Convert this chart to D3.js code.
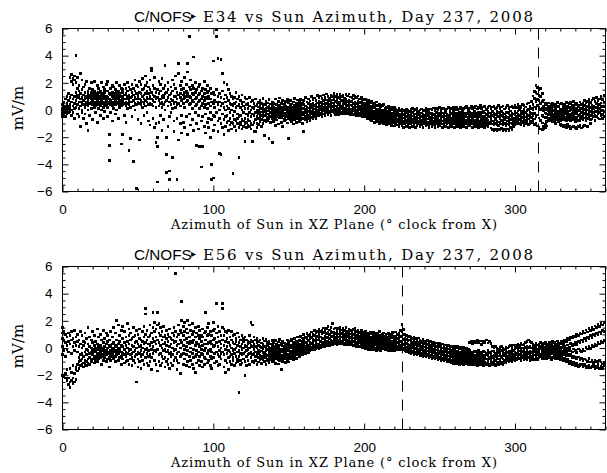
<!DOCTYPE html>
<html><head><meta charset="utf-8">
<script src="https://cdn.jsdelivr.net/npm/d3@7"></script>
<style>body{margin:0;background:#fff}svg{display:block}</style>
</head><body>
<script>
// ---------- data ----------
const xTicks = [0, 100, 200, 300];
const yTicks = [-6, -4, -2, 0, 2, 4, 6];
const titles = ["E34", "E56"];
const markerAz = [315, 225];   // dashed vertical markers (deg)
// rows: [azimuth(deg), value(mV/m), value, ...]
const e34Rows = [
[0,-.3,.1,.4,-.1,-.5],[1,.2,-.4,.6,0,.3],[2,-.2,.3,.8,-.5,.1],[3,.5,0,-.3,1,.2],[4,.1,.7,-.2,.3,1.2],
[5,2.4,.4,-.1,.9,.2],[6,2.1,2.6,.6,0,-.4,1.1],[7,2.3,1.9,.8,.3,-.2],[8,2.2,2.5,1,.5,.1,-.6],[9,4,2,1.3,.7,.2],
[10,2.4,1.6,.9,.4,-.3,1.1],[11,1.8,1,.6,.1,-.5,1.4],[12,2.7,1.2,.8,.3,-1.2,.6],[13,2.2,1.5,.9,.5,-.2,0],[14,1.7,1.1,.7,.4,-.6],
[15,1.9,1.3,.8,.2,-.3,1],[16,2.1,1,.6,.9,-1,.4],[17,1.4,1.2,.7,.3,-1.5,0],[18,1.6,.9,.5,1.1,-.4],[19,2,1.3,.8,.6,.1],
[20,1.5,1,.7,.4,-.7,1.2],[21,2.1,1.4,.9,.5,.2],[22,1.2,.8,.6,.3,-.2,1],[23,1.8,1.1,.7,.5,-.9],[24,1.6,1.3,.9,.4,.1],
[25,1.4,1,.8,.6,-.4,.3],[26,2,1.2,.7,.5,0],[27,1.7,1.1,.9,.6,.2,-.6],[28,1.5,1.3,.8,.4,-.1],[29,1.9,1,.7,.5,.3],
[30,2.1,1.4,.9,.6,-.5,.2],[31,-1.8,-2.6,-3.7,1.2,.8,.5],[32,1.6,1.1,.7,.4,-.2],[33,1.3,1,.6,.3,-.8,1.8],[34,1.7,1.2,.8,.5,.1],
[35,1.5,.9,.7,.4,-.3,1.1],[36,2,1.3,.8,.6,0],[37,1.4,1.1,.9,.5,-.6],[38,1.8,1.2,.7,.4,.2],[39,-2.5,1.6,1,.6,.3],
[40,-1.8,1.3,.9,.7,.4,1.5],[41,1.9,1.1,.8,.5,-.4],[42,1.6,1.2,.6,.3,-.9],[43,1.4,1,.8,.5,.1,2],[44,-3,1.7,1.1,.7,.4],
[45,-2.1,1.5,.9,.6,.2],[46,1.9,1.3,1,.6,-.5],[47,-3.8,1.6,1.1,.7,.3],[48,2.2,1.4,.9,.5,0],[49,-5.8,1.8,1.2,.8,.4],
[50,1.7,1.1,.9,.6,-.7],[51,-2.2,2.1,1.3,.8,.5],[52,1.9,1.2,.7,.4,-1],[53,2.3,1.5,1,.6,.2],[54,1.6,1.1,.8,.5,-.4],
[55,2.5,1.8,1.2,.7,.3],[56,2,1.4,.9,.6,-.2],[57,1.7,1.2,.8,.4,-.8],[58,2.2,1.5,1,.5,-1.1],[59,3.1,2.9,1.3,.8,.4],
[60,1.8,1.1,.7,.3,-.6],[61,2.4,1.6,1,.6,-1.3],[62,-2.4,-1,1.3,.8,.2],[63,-5.3,-2.7,-2,1.5,.9],[64,2.1,1.2,.7,.3,-.9],
[65,1.9,1.4,.8,.5,-.4],[66,2.3,1,.6,-1.5,.2],[67,1.6,1.1,.9,.4,-.7],[68,3.3,1.8,1.2,.6,0],[69,-3.3,-4.6,-2,1.3,.7],
[70,2,1.5,.9,.3,-1.2],[71,-4.5,-5.1,1.1,.6,-.5],[72,1.7,1.2,.8,.4,-.2],[73,-3.5,2.2,1.4,.7,.1],[74,1.9,1,.5,-.8,-1.6],
[75,2.5,1.6,1,.6,.2],[76,-5.1,1.3,.8,.4,-.6],[77,3.4,2.7,-2.2,1.1,.5],[78,1.8,1.2,.9,.3,-1],[79,2.1,1.5,.7,-.4,-1.7],
[80,1.6,1.1,.8,.5,-.9],[81,2.4,1.3,.9,.2,-1.3],[82,1.9,1.4,1,.6,-.5],[83,3.4,2.8,1.2,.7,-1.8],[84,5.4,1.7,1,.4,-.3],
[85,2.2,1.5,.9,.5,-1.1],[86,1.8,1.2,.7,.1,-.7],[87,3.9,1.6,1.1,.6,-1.5],[88,2,1.3,.8,.3,-.2],[89,-2.6,1.5,.9,.4,-1],
[90,1.7,1.1,.6,-.4,-1.4],[91,-2.7,1.9,1.2,.7,.1],[92,-4.2,1.4,.8,.3,-.8],[93,-2.7,1.6,1,.5,-.5],[94,2.1,1.2,.7,.2,-1.2],
[95,1.5,.9,.4,-.3,-1.7],[96,1.8,1.3,.8,.1,-.9],[97,1.4,1,.5,-.6,-1.3],[98,1.6,.8,.3,-.2,-2],[99,-4,-5.1,1.2,.6,-.7],
[100,3.6,-5,1.3,.5,-.4,-1.5],[101,1.1,.7,.2,-.5,-1.1],[102,5.9,5.4,1.5,.6,-.2],[103,3.8,1,.4,-.8,-1.6],[104,-3.2,1.2,.6,0,-.6],
[105,-3.3,3.7,.9,.3,-1],[106,2.7,1.4,.5,-.3,-1.3],[107,2,.8,.2,-.7,-1.8],[108,1.1,.6,0,-.5,-1.2],[109,1.9,.9,.3,-.4,-.9],
[110,1.5,.7,.1,-.8,-1.5],[111,1.2,.5,-.2,-.6,-1.1],[112,1,.4,0,-.9,-1.4],[113,-4.7,.8,.3,-.4,-1],[114,.9,.5,-.1,-.7,-1.2],
[115,1.3,.6,.2,-.8,-1.5],[116,.8,.3,-.3,-1,-.6],[117,-3.5,1,.4,-.5,-1.3],[118,.7,.2,-.4,-.9,-1.1],[119,1.1,.5,0,-.7,-1.4],
[120,.6,.3,-.2,-.8,-1.2],[121,-2.3,.9,.1,-.6,-1],[122,.8,.4,-.3,-.9,-1.3],[123,.5,.1,-.4,-1.1,-.7],[124,.9,.3,-.2,-.8,-1.2],
[125,.6,0,-.5,-1,-1.4],[126,-2.3,-2.3,.7,.2,-.3,-1.1],[127,.5,.1,-.4,-.9,-1.6],[128,.8,.3,-.2,-.7,-1.6],[129,.4,0,-.5,-1,-1.3],
[130,.55,.21,-.04,-.27,-.61,-1.08],[131,.71,.33,.09,-.18,-.46,-.83],[132,.47,.12,-.15,-.38,-.7,-1.19],[133,.83,.28,.02,-.22,-.52,-.97],[134,.39,.06,-.11,-.43,-.76,-1.9],
[135,.64,.36,.13,-.09,-.35,-.88],[136,.52,.17,-.08,-.29,-.57,-.79],[137,.75,.24,-.02,-.31,-.64,-2.1],[138,.44,.09,-.19,-.47,-.92],[139,.58,.31,.05,-.14,-.39,-.66,-2.4],
[140,.49,.22,-.06,-.25,-.53,-.84],[141,.8,.14,-.12,-.36,-.62,-1.12],[142,.41,.03,-.17,-.41,-.73],[143,.63,.26,.01,-.2,-.48,-1.02],[144,.88,.34,.07,-.26,-.58],
[145,.5,.15,-.1,-.33,-.55,-.93],[146,.69,.23,-.05,-.37,-1.21],[147,.42,.11,-.21,-.44,-.68,-.81],[148,.61,.29,.04,-.24,-.49,-.74],[149,.77,.19,-.08,-.3,-.51,-.95],
[150,.53,.13,-.16,-.39,-.62,-2.1],[151,.68,.32,.06,-.18,-.45,-.7],[152,.45,.21,-.03,-.28,-.56,-.86],[153,.6,.1,-.13,-.42,-.67,-1.04],[154,.86,.35,.08,-.21,-.47,-.72],
[155,.51,.18,-.07,-.34,-.6,-.92],[156,.73,.39,.12,-.15,-.4,-.63],[157,.57,.24,-.04,-.27,-.52,-.83],[158,.79,.31,.03,-.23,-.44,-.71],[159,.48,.14,-.14,-.37,-.58,-1.01],
[160,.72,.41,.1,-.16,-.35,-.61,-1.6],[161,.92,.3,.05,-.19,-.46,-.69],[162,.6,.22,-.02,-.29,-.54,-.84],[163,.81,.47,.15,-.12,-.38,-.62],[164,.66,.27,.01,-.2,-.43,-.75],
[165,.98,.42,.16,-.09,-.3,-.55],[166,.77,.5,.19,-.06,-.33,-.6],[167,.89,.34,.07,-.17,-.41,-.52],[168,.7,.43,.13,-.11,-.27,-.64],[169,1.06,.52,.22,-.04,-.24,-.45],
[170,.91,.63,.35,.08,-.14,-.38],[171,1.02,.55,.27,.03,-.21,-.33],[172,.84,.6,.37,.12,-.09,-.47],[173,1.11,.71,.44,.16,-.05,-.29],[174,.93,.52,.26,.02,-.17,-.41],
[175,1.18,.74,.46,.19,-.02,-.23],[176,.99,.64,.33,.07,-.12,-.31],[177,.88,.69,.41,.22,-.07,-.2],[178,1.08,.58,.31,.1,-.15,-.39],[179,.97,.73,.52,.24,-.03,-.13],
[180,1.2,.81,.45,.14,-.08,-.22],[181,1.01,.62,.3,.04,-.19,-.34],[182,1.12,.76,.53,.21,-.06,-.14],[183,.9,.57,.38,.09,-.11,-.32],[184,1.16,.83,.49,.23,.01,-.18],
[185,.98,.68,.29,.11,-.16,-.25],[186,1.09,.59,.42,.18,-.04,-.12],[187,.87,.72,.5,.13,-.09,-.3],[188,1.14,.79,.4,.2,-.02,-.21],[189,1.03,.61,.32,.05,-.14,-.24],
[190,1.17,.7,.48,.17,-.07,-.15],[191,.96,.63,.36,.08,-.13,-.33],[192,.89,.67,.34,.03,-.18,-.26],[193,1.07,.8,.47,.19,-.05,-.31],[194,.99,.56,.28,.06,-.2,-.22],
[195,.9,.49,.23,.01,-.17,-.42],[196,1.02,.61,.38,.09,-.11,-.29],[197,.81,.53,.27,.02,-.23,-.4],[198,.92,.58,.21,-.06,-.19,-.35],[199,.78,.42,.12,-.15,-.32,-.51],
[200,.74,.48,.26,0,-.21,-.43],[201,.82,.39,.13,-.16,-.34,-.52],[202,.63,.31,.04,-.24,-.41,-.63],[203,.7,.43,.17,-.07,-.3,-.46],[204,.52,.24,.02,-.27,-.49,-.71],
[205,.61,.28,-.06,-.36,-.55,-.82],[206,.48,.14,-.15,-.31,-.47,-.64],[207,.4,.19,-.09,-.38,-.61,-.9],[208,.58,.05,-.18,-.45,-.67,-.77],[209,.33,.08,-.26,-.48,-.69,-.84],
[210,.42,.02,-.2,-.53,-.74,-1.01],[211,.24,-.07,-.35,-.57,-.72,-.91],[212,.31,-.02,-.28,-.46,-.66,-.83],[213,.38,-.11,-.3,-.62,-.8,-1.03],[214,.12,-.17,-.39,-.58,-.76,-.93],
[215,.2,-.08,-.37,-.64,-.85,-1.09],[216,.29,-.19,-.44,-.6,-.73,-.9],[217,.1,-.12,-.33,-.66,-.82,-1.02],[218,.18,-.21,-.47,-.71,-.88,-1.12],[219,.03,-.26,-.41,-.59,-.78,-.94],
[220,.16,-.1,-.38,-.65,-.86,-1.18],[221,.08,-.27,-.5,-.74,-.92,-1.03],[222,.01,-.2,-.42,-.68,-.83,-1.1],[223,.11,-.29,-.56,-.77,-.95,-1.2],[224,-.06,-.31,-.48,-.63,-.81,-1.01],
[225,.08,-.22,-.49,-.72,-.9,-1.14],[226,-.02,-.33,-.58,-.81,-.97,-1.27],[227,-.09,-.37,-.51,-.66,-.88,-1.03],[228,.06,-.18,-.46,-.75,-.93,-1.21],[229,-.01,-.29,-.6,-.84,-1.06],
[230,-.12,-.41,-.57,-.79,-.99,-1.3],[231,.02,-.26,-.5,-.68,-.85,-1.01],[232,.09,-.19,-.44,-.7,-.91,-1.19],[233,-.07,-.38,-.61,-.83,-1.08],[234,.03,-.3,-.53,-.73,-.94,-1.28],
[235,.11,-.2,-.42,-.64,-.82,-1.12],[236,-.1,-.34,-.59,-.87,-1.02],[237,0,-.39,-.52,-.71,-.89,-1.2],[238,.07,-.23,-.47,-.76,-.96,-1.1],[239,-.05,-.31,-.62,-.86,-1.04,-1.31],
[240,-.02,-.4,-.56,-.69,-.83,-1.01],[241,.1,-.27,-.49,-.78,-.97,-1.17],[242,.04,-.17,-.43,-.67,-.92,-1.09],[243,-.08,-.36,-.6,-.88,-1.05,-1.29],[244,.08,-.28,-.54,-.74,-.84,-1.02],
[245,-.01,-.21,-.45,-.7,-.95,-1.22],[246,.15,-.32,-.58,-.8,-.99,-1.11],[247,-.03,-.4,-.51,-.77,-1.07,-1.27],[248,.12,-.19,-.48,-.66,-.87,-1.03],[249,.01,-.3,-.63,-.85,-1.01,-1.2],
[250,.17,-.25,-.41,-.73,-.93,-1.13],[251,-.04,-.37,-.57,-.72,-.86,-1.02],[252,.09,-.22,-.5,-.82,-1.04,-1.28],[253,.14,-.29,-.61,-.79,-.97,-1.12],[254,.02,-.18,-.44,-.68,-.9,-1.21],
[255,.07,-.33,-.52,-.84,-1],[256,.18,-.38,-.59,-.78,-.95,-1.3],[257,-.02,-.2,-.47,-.69,-.88,-1.1],[258,.1,-.27,-.6,-.83,-1.06,-1.19],[259,.16,-.13,-.42,-.75,-.92,-1.01],
[260,.05,-.31,-.53,-.71,-.98,-1.29],[261,.19,-.24,-.58,-.86,-1.03,-1.12],[262,0,-.29,-.49,-.77,-.94,-1.23],[263,.08,-.16,-.39,-.67,-.89,-1.02],[264,.17,-.34,-.62,-.81,-1.07,-1.31],
[265,-.03,-.09,-.46,-.74,-.96,-1.1],[266,.11,-.28,-.57,-.7,-.91,-1.2],[267,.2,-.21,-.41,-.85,-1],[268,.26,-.3,-.51,-.79,-.97,-1.28],[269,.06,-.12,-.56,-.68,-.87,-1.08],
[270,.15,-.19,-.43,-.83,-1.05,-1.18],[271,.27,-.33,-.52,-.76,-.93,-1.01],[272,.09,-.24,-.59,-.72,-.99,-1.3],[273,.18,-.1,-.4,-.84,-1.04,-1.11],[274,.29,-.28,-.5,-.78,-.95,-1.22],
[275,.07,-.22,-.61,-.69,-.88,-1.02],[276,.2,-.14,-.38,-.8,-1.06,-1.27],[277,.31,-.27,-.48,-.87,-1.09],[278,.1,-.2,-.57,-.71,-.9,-1.19],[279,.22,-.11,-.44,-.77,-.98,-1.03],
[280,.28,-.23,-.53,-.86,-1.08,-1.29],[281,.05,-.32,-.6,-.73,-.92,-1.12],[282,.19,-.09,-.42,-.79,-1.01,-1.21],[283,.3,-.21,-.49,-.88,-.97],[284,.12,-.29,-.58,-.7,-.94,-1.32],
[285,.21,-.13,-.41,-.8,-1.04,-1.42],[286,.27,-.24,-.52,-.87,-1.1,-1.51],[287,.09,-.31,-.59,-.74,-.99,-1.44],[288,.18,-.1,-.43,-.82,-1.06,-1.53],[289,.32,-.2,-.47,-.89,-1.13,-1.41],
[290,.1,-.28,-.61,-.96,-1.48],[291,.23,-.12,-.39,-.78,-1.02,-1.38],[292,.29,-.22,-.5,-.91,-1.09,-1.52],[293,.07,-.3,-.57,-.72,-.97,-1.43],[294,.2,-.15,-.44,-.98,-1.17,-1.5],
[295,.33,-.18,-.53,-.81,-1.03,-1.39],[296,.12,-.27,-.62,-.88,-1.11,-1.49],[297,.22,-.08,-.42,-.69,-.96,-1.3],[298,.3,-.21,-.48,-.99,-1.41],[299,.17,-.29,-.58,-.79,-1,-1.22],
[300,.34,-.12,-.37,-.86,-1.08],[301,.19,-.23,-.5,-.71,-.93,-1.01],[302,.38,-.07,-.31,-.62,-.88],[303,.27,.02,-.41,-.68,-.97,-1.04],[304,.16,-.19,-.47,-.77,-1.09],
[305,.42,-.09,-.29,-.57,-.86,-.95],[306,.31,.04,-.39,-.72,-1.16],[307,.21,-.16,-.52,-.79,-.99],[308,.44,-.06,-.33,-.61,-.84,-.92],[309,.51,.03,-.42,-.66,-1.07],
[310,.28,-.18,-.49,-.81,-.98],[311,.62,.12,-.27,-.57,-.87,-.94],[312,1.03,.41,.04,-.38,-.77,-.85],[313,1.38,.86,.23,-.27,-.66,-1.08],[314,1.82,1.27,.63,.12,-.47,-.97],
[315,1.66,1.18,.79,.31,-.36,-1.17],[316,1.52,1.09,.68,.17,-.58,-1.28],[317,1.58,.97,.49,.03,-.76,-1.39],[318,1.19,.63,.12,-.42,-.96,-1.47],[319,.73,.26,-.08,-.51,-1.17,-1.36],
[320,.48,.12,-.23,-.58,-1.07,-1.31],[321,.41,.03,-.29,-.52,-.83,-1.18],[322,.52,.17,-.08,-.37,-.68,-.74],[323,.28,.04,-.27,-.58,-.81],[324,.43,.09,-.18,-.46,-.66,-.77],
[325,.49,.21,-.06,-.39,-.63,-.88],[326,.31,-.02,-.33,-.51,-.76],[327,.38,.13,-.17,-.57,-.71,-.98],[328,.54,.22,-.1,-.42,-.64],[329,.26,-.07,-.31,-.48,-.69,-.87],
[330,.44,.08,-.21,-.56,-.79,-1.08],[331,.51,-.03,-.28,-.47,-.72,-1.13],[332,.33,.12,-.13,-.38,-.62,-1.22],[333,.41,.19,-.19,-.53,-.74,-1.16],[334,.56,.01,-.29,-.59,-.82,-1.27],
[335,.29,.14,-.16,-.49,-.67,-1.09],[336,.47,.23,-.08,-.37,-.71,-1.21],[337,.53,.03,-.32,-.57,-.78,-1.34],[338,.34,.11,-.22,-.46,-.66,-1.26],[339,.62,.18,-.11,-.41,-.73,-1.19],
[340,.39,-.01,-.27,-.61,-.83,-1.31],[341,.48,.13,-.2,-.52,-.69,-1.38],[342,.32,.21,-.06,-.43,-.76,-1.24],[343,.6,.04,-.31,-.58,-.8,-1.15],[344,.42,.09,-.17,-.47,-.65,-1.33],
[345,.51,.24,-.09,-.39,-.7,-1.22],[346,.68,.31,.02,-.28,-.59,-1.12],[347,.53,.12,-.19,-.48,-.77],[348,.62,.28,.01,-.33,-.64,-1.19],[349,.79,.43,.08,-.2,-.57],
[350,.57,.19,-.12,-.41,-.69,-.98],[351,.73,.37,.03,-.27,-.66],[352,.84,.29,.11,-.18,-.49],[353,.61,.22,-.07,-.38,-.78],[354,.92,.48,.17,-.09,-.46],
[355,.69,.33,.04,-.29,-.58],[356,.81,.41,.13,-.16,-.67],[357,.99,.52,.21,-.06,-.39],[358,.77,.27,-.02,-.32,-.61],[359,1.08,.58,.24,-.11,-.47]
];
const e56Rows = [
[0,1.5,1.1,.7,.1,-.5,-2],[1,1.2,.6,-.2,-2.1,-2],[2,1,.4,-.6,-2.2,-1.9],[3,.8,.2,-.1,-2.4,-1.6],[4,1.1,.5,-.3,-2.7,-2.2],
[5,.9,.3,-1.5,-2.9,-2.5],[6,1.2,.6,-.4,-2.4,-1.8],[7,.7,.1,-1.3,-2.2,-2.6],[8,1.3,.4,-.2,-1.9,-2.5],[9,.8,.2,-1.6,-2.3,-1.4],
[10,1,.5,-.3,-1.7,-1.2],[11,.6,.1,-.7,-1.5,-1],[12,1.2,.3,-.5,-1.3,-.9],[13,.9,0,-.4,-1.2,-.8],[14,.5,.2,-.6,-1.1,-1.4],
[15,1.1,.4,-.3,-.9,-1.2],[16,.7,-.1,-.5,-1,-1.3],[17,1.5,.3,-.2,-.8,-1.1],[18,.8,.1,-.4,-.7,-1.2],[19,.6,0,-.3,-.9,-1],
[20,1.2,.4,-.1,-.5,-.8],[21,.9,.2,-.3,-.6,-1.1],[22,.5,0,-.2,-.7,-.9],[23,1.4,.3,-.4,-.5,-1],[24,.8,.1,-.1,-.6,-.8],
[25,1,.2,-.3,-.4,-.7],[26,.6,0,-.2,-.6,-1.2],[27,1.3,.4,-.1,-.5,-.9],[28,.7,.1,-.3,-.7,-.4],[29,1.1,.3,-.2,-.5,-1],
[30,.9,.5,0,-.4,-.8],[31,-1.4,.6,.2,-.3,-.7],[32,1.2,.1,-.2,-.5,-.9],[33,.8,.3,-.1,-.4,-.6],[34,1.5,.4,0,-.3,-.8],
[35,1.1,.2,-.2,-.6,-1],[36,2,.6,.1,-.3,-.5],[37,1.7,.3,-.1,-.4,-.9],[38,.9,.5,0,-.2,-.7],[39,-1.2,1.3,.2,-.3,-.6],
[40,1.6,.7,.1,-.4,-.8],[41,1.2,.4,-.1,-.5,-1.1],[42,.8,.2,-.3,-.6,-1],[43,1.8,.5,0,-.4,-.9],[44,1.4,.9,.3,-.2,-1.2],
[45,1.1,.6,-.1,-.5,-.8],[46,.7,.2,-.4,-.7,-1.3],[47,1.5,.8,.1,-.3,-.9],[48,.9,.4,-.2,-.6,-1.1],[49,-2.5,1.3,.5,0,-.5],
[50,1,.3,-.3,-.8,-1.4],[51,1.4,.7,.1,-.4,-1],[52,.6,.2,-.2,-.6,-1.5],[53,1.2,.5,0,-.5,-.9],[54,1.6,.8,.3,-.3,-1.2],
[55,2.9,2.5,1,.4,-.1,-.7],[56,1.3,.6,0,-.4,-1.1],[57,.8,.3,-.2,-.6,-1.3],[58,1.7,.9,.2,-.5,-1],[59,1.1,.4,-.1,-.7,-1.6],
[60,2.6,1.5,.7,.1,-.4],[61,1.9,1.2,.5,-.2,-.9],[62,1.4,.8,.3,-.3,-1.2],[63,2.6,1.7,.6,-.1,-1.7],[64,1.8,1.1,.4,-.5,-1],
[65,1.5,.9,.2,-.4,-1.3],[66,1.2,.6,0,-.6,-1.1],[67,1.6,.8,.3,-.2,-.8],[68,.9,.4,-.1,-.7,-1.4],[69,1.3,.7,.2,-.3,-1],
[70,1,.5,-.2,-.8,-1.2],[71,1.4,.8,.1,-.4,-1.5],[72,.7,.3,-.3,-.6,-1.1],[73,1.1,.6,0,-.5,-1.3],[74,1.5,.9,.4,-.2,-.9],
[75,5.5,1.2,.5,-.1,-.7],[76,.8,.2,-.4,-.9,-1.6],[77,1.7,1,.3,-.3,-1.1],[78,-1.9,1.3,.6,0,-.6],[79,3.4,2,1.1,.4,-.5],
[80,1.6,.9,.2,-.4,-1.2],[81,1.9,1.2,.6,-.1,-.8],[82,1.4,.7,.1,-.5,-1.3],[83,2,1.1,.4,-.2,-1],[84,1.7,.8,.3,-.6,-1.4],
[85,1.3,.5,0,-.3,-.9],[86,1.8,1,.4,-.4,-1.2],[87,1.2,.6,-.1,-.7,-1.5],[88,-1.8,1.5,.8,.2,-.6],[89,1.1,.4,-.2,-.5,-1.1],
[90,1.6,.9,.3,-.3,-.9],[91,1.3,.7,.1,-.6,-1.3],[92,.9,.5,-.1,-.4,-1],[93,1.4,.8,.2,-.5,-1.4],[94,1.1,.3,-.2,-.7,-1.2],
[95,2.6,1.2,.6,0,-.8],[96,1.5,.9,.3,-.4,-1.1],[97,1.8,1,.4,-.2,-.9],[98,1.2,.5,-.1,-.6,-1.3],[99,.9,.3,-.3,-.8,-1.5],
[100,1.9,1.3,.6,.1,-.7],[101,1.4,.7,.2,-.4,-1.1],[102,3.3,1.1,.4,-.3,-1],[103,1.6,.8,.1,-.5,-1.3],[104,1.2,.5,-.2,-.6,-1.2],
[105,.9,.3,0,-.4,-.8],[106,3.3,2.9,1.5,.6,-.3],[107,1.4,.9,.2,-.5,-1.4],[108,-1.8,1.2,.5,-.1,-.9],[109,1.1,.7,.1,-.4,-1.1],
[110,-1.6,1.3,.4,-.2,-.7],[111,.8,.2,-.3,-.6,-1],[112,1.2,.6,0,-.5,-1.2],[113,.9,.4,-.2,-.7,-.9],[114,1,.3,-.1,-.4,-1.3],
[115,.7,.5,0,-.6,-1.1],[116,1.1,.2,-.3,-.8,-1],[117,-3.3,.8,.4,-.2,-.6],[118,.6,.1,-.4,-.9,-1.2],[119,.9,.3,-.1,-.5,-1.1],
[120,.7,.5,0,-.4,-.8],[121,-2,.8,.2,-.3,-1],[122,.6,.1,-.2,-.6,-1.3],[123,.5,.3,-.1,-.5,-.9],[124,.9,.4,0,-.4,-1.2],
[125,1.9,.6,.2,-.3,-.7],[126,1.7,.5,.1,-.5,-1],[127,.8,.3,-.1,-.4,-1.1],[128,.6,.1,-.3,-.6,-.9],[129,.7,.4,0,-.5,-1.2],
[130,.47,.16,-.18,-.41,-.68,-1.02],[131,.58,.09,-.27,-.52,-.87],[132,.36,.03,-.21,-.63,-.79,-1.13],[133,.69,.24,-.08,-.37,-.58,-.84],[134,.51,.12,-.29,-.48,-.71,-.98],
[135,.62,.01,-.16,-.44,-.66,-1.19],[136,.41,.19,-.12,-.53,-.81,-.92],[137,.48,.07,-.32,-.57,-.74,-1.08],[138,.29,-.04,-.23,-.39,-.62,-.83],[139,.57,.18,-.09,-.46,-.7,-1.01],
[140,.38,.11,-.26,-.59,-.77,-.9],[141,.53,-.02,-.19,-.43,-.64,-1.12],[142,.27,.08,-.13,-.49,-.72,-.81],[143,.44,.02,-.31,-.56,-.86,-1.18],[144,.61,.21,-.17,-.38,-.63,-.91],
[145,.33,-.08,-.28,-.51,-.79,-1.6],[146,.49,.14,-.22,-.58,-.75,-.99],[147,.37,-.03,-.11,-.42,-.61,-.82],[148,.28,.09,-.3,-.47,-.73,-1.09],[149,.59,.04,-.2,-.66,-.84,-.93],
[150,.42,.17,-.07,-.48,-.69,-1.03],[151,.52,.07,-.27,-.39,-.6,-.78],[152,.63,.22,.02,-.31,-.52,-.71],[153,.39,.12,-.18,-.47,-.68,-.88],[154,.71,.28,.03,-.36,-.55,-.62],
[155,.5,.19,-.12,-.29,-.49,-.79],[156,.82,.38,.09,-.18,-.41,-.52],[157,.6,.27,.02,-.26,-.47,-.61],[158,.87,.52,.13,-.08,-.31,-.43],[159,.73,.41,.18,-.17,-.38,-.49],
[160,.98,.61,.24,.03,-.22,-.31],[161,.79,.43,.12,-.09,-.28,-.41],[162,1.08,.68,.32,.02,-.14,-.24],[163,.93,.53,.19,-.03,-.21,-.33],[164,1.01,.72,.38,.12,-.09,-.19],
[165,1.17,.79,.31,.08,-.06,-.13],[166,.97,.62,.42,.18,.01,-.08],[167,1.28,.91,.53,.22,.04,-.12],[168,1.12,.74,.39,.14,-.02,-.05],[169,1.19,.83,.58,.29,.11,.02],
[170,1.36,.98,.61,.27,.06,-.03],[171,1.21,.82,.49,.23,.13,-.01],[172,1.31,1.03,.71,.37,.09,.14],[173,1.48,1.12,.68,.41,.22,.07],[174,1.27,.88,.57,.33,.18,.12],
[175,1.42,1.07,.77,.48,.26,.16],[176,1.57,1.18,.81,.52,.34,.21],[177,1.33,.97,.72,.43,.27,.19],[178,1.51,1.22,.87,.58,.33,.24],[179,1.82,1.13,.83,.49,.38,.28],
[180,1.39,1.17,.92,.62,.41,.29],[181,1.48,1.08,.79,.54,.37,.31],[182,1.29,1.19,.93,.63,.44,.27],[183,1.41,1.02,.81,.57,.32,.36],[184,1.52,1.23,.88,.68,.43,.3],
[185,1.32,1.09,.82,.51,.29,.38],[186,1.43,1.21,.98,.72,.46,.33],[187,1.27,1.01,.77,.59,.34,.26],[188,1.49,1.13,.91,.64,.42,.37],[189,1.22,.99,.83,.53,.31,.24],
[190,1.38,1.11,.89,.69,.44,.28],[191,1.31,1.03,.78,.52,.33,.21],[192,1.18,1.07,.87,.61,.39,.29],[193,1.34,.97,.73,.48,.23,.17],[194,1.41,1.12,.82,.58,.31,.22],
[195,1.19,.92,.68,.43,.24,.13],[196,1.29,1.02,.79,.51,.28,.19],[197,1.13,.87,.62,.38,.12,.07],[198,1.27,.98,.71,.47,.21,.14],[199,1.16,.83,.59,.34,.09,.03],
[200,1.09,.91,.68,.41,.17,.06],[201,1.21,.79,.52,.28,.02,-.08],[202,1.07,.87,.63,.37,.11,.04],[203,.98,.82,.48,.24,-.03,-.11],[204,1.18,.73,.58,.31,.08,-.02],
[205,1.02,.78,.47,.19,-.07,-.14],[206,1.12,.88,.61,.33,.12,.01],[207,.91,.69,.42,.22,-.02,-.09],[208,1.08,.81,.53,.28,-.08,-.16],[209,.97,.72,.39,.13,.03,-.12],
[210,1.19,.83,.59,.32,.09,-.04],[211,.93,.67,.48,.21,-.11,-.18],[212,1.01,.79,.43,.17,.02,-.07],[213,1.11,.71,.51,.29,.12,0],[214,.88,.63,.38,.14,-.09,-.15],
[215,1.03,.77,.49,.23,.01,-.06],[216,1.09,.68,.41,.18,-.12,-.19],[217,.92,.61,.47,.27,.04,-.08],[218,.99,.82,.37,.11,-.17,-.21],[219,1.12,.73,.52,.24,.02,-.1],
[220,.89,.64,.43,.16,-.09,-.17],[221,1.18,.79,.51,.31,.03,-.06],[222,.97,.7,.39,.12,-.11,-.14],[223,1.09,.78,.58,.29,.08,-.03],[224,1.28,.87,.49,.21,.04,-.09],
[225,1.72,1.21,.83,.41,.13,-.02],[226,1.37,.98,.62,.28,.01,-.12],[227,.98,.71,.42,.13,-.08,-.19],[228,.91,.63,.31,.03,-.18,-.27],[229,.82,.52,.28,.08,-.21,-.3],
[230,.87,.58,.19,-.02,-.27,-.36],[231,.79,.48,.27,-.07,-.19,-.4],[232,.72,.41,.17,.02,-.28,-.37],[233,.81,.47,.11,-.12,-.38,-.46],[234,.68,.39,.22,-.03,-.29,-.42],
[235,.61,.32,.08,-.17,-.41,-.5],[236,.73,.43,.18,-.11,-.33,-.44],[237,.58,.27,.01,-.22,-.47,-.56],[238,.52,.38,.09,-.13,-.39,-.53],[239,.63,.21,-.02,-.28,-.51,-.61],
[240,.49,.29,.07,-.19,-.42,-.54],[241,.41,.18,-.08,-.31,-.57,-.66],[242,.53,.26,-.01,-.23,-.48,-.59],[243,.38,.12,-.13,-.39,-.62,-.71],[244,.47,.19,-.04,-.27,-.53,-.63],
[245,.31,.08,-.18,-.42,-.68,-.77],[246,.43,.17,-.12,-.33,-.61,-.72],[247,.28,.02,-.23,-.48,-.71,-.82],[248,.37,.09,-.14,-.41,-.63,-.74],[249,.22,-.03,-.29,-.52,-.78,-.87],
[250,.33,.11,-.21,-.38,-.69,-.8],[251,.18,-.09,-.32,-.58,-.81,-.9],[252,.29,.01,-.24,-.49,-.73,-.84],[253,.12,-.12,-.38,-.61,-.87,-.96],[254,.21,-.02,-.27,-.53,-.79,-.89],
[255,.08,-.18,-.42,-.68,-.91,-1.02],[256,.19,-.07,-.33,-.59,-.83,-.99],[257,.02,-.21,-.47,-.71,-.88,-1.04],[258,.13,-.16,-.39,-.62,-.94,-1.07],[259,-.01,-.27,-.52,-.77,-1.03,-1.12],
[260,.09,-.19,-.43,-.68,-.97,-1.09],[261,.03,-.28,-.58,-.81,-1.06,-1.14],[262,.11,-.22,-.49,-.72,-.96,-1.03],[263,-.08,-.31,-.61,-.87,-1.13,-1.21],[264,.02,-.37,-.53,-.79,-1.04,-1.16],
[265,-.11,-.29,-.57,-.73,-.98,-1.07],[266,.04,-.18,-.48,-.82,-1.09,-1.19],[267,-.07,-.41,-.63,-.88,-1.12],[268,.01,-.27,-.51,-.69,-.93,-1.02],[269,-.13,-.38,-.66,-.84,-1.06,-1.22],
[270,.42,-.17,-.46,-.78,-1.03,-1.13],[271,.51,-.31,-.58,-.87,-1.14,-1.24],[272,.33,-.38,-.49,-.71,-.99,-1.04],[273,.47,-.22,-.61,-.82,-1.09,-1.21],[274,.39,-.27,-.52,-.89,-1.07,-1.13],
[275,.57,-.41,-.63,-.74,-1.18,-1.32],[276,.36,-.18,-.47,-.79,-1.01,-1.12],[277,.52,-.32,-.59,-.91,-1.11,-1.23],[278,.28,-.39,-.68,-.83,-.97,-1.04],[279,.49,-.21,-.53,-.86,-1.16,-1.29],
[280,.41,-.29,-.62,-.73,-1.02,-1.08],[281,.58,-.37,-.51,-.81,-1.13,-1.21],[282,.37,-.19,-.57,-.88,-.96,-1.03],[283,.46,-.33,-.69,-.79,-1.19,-1.31],[284,.31,-.42,-.48,-.92,-1.06,-1.12],
[285,.12,-.23,-.59,-.71,-1.09,-1.22],[286,.03,-.28,-.52,-.83,-.98,-1.04],[287,.09,-.39,-.63,-.9,-1.17,-1.29],[288,-.02,-.21,-.49,-.72,-1.02,-1.11],[289,-.09,-.32,-.58,-.81,-1.08,-1.19],
[290,.04,-.37,-.51,-.87,-.96,-1.03],[291,.13,-.19,-.62,-.73,-1.04,-1.14],[292,-.03,-.29,-.48,-.82,-1.13,-1.2],[293,-.11,-.41,-.59,-.89,-.97,-1.05],[294,.08,-.18,-.53,-.74,-1.02,-1.1],
[295,.01,-.31,-.61,-.79,-.88,-.94],[296,.12,-.22,-.42,-.71,-.93,-1.02],[297,.18,-.27,-.49,-.63,-.86,-.93],[298,.07,-.13,-.38,-.69,-.94,-1.01],[299,.21,-.2,-.47,-.62,-.79,-.86],
[300,.13,-.08,-.31,-.58,-.83,-.91],[301,.19,.02,-.37,-.49,-.76,-.84],[302,.29,-.11,-.28,-.57,-.69,-.74],[303,.17,.03,-.21,-.48,-.77,-.82],[304,.32,-.07,-.39,-.61,-.87,-.93],
[305,.21,.01,-.27,-.52,-.68,-.73],[306,.27,-.12,-.19,-.42,-.79,-.86],[307,.38,.04,-.31,-.57,-.71,-.76],[308,.49,.11,-.18,-.47,-.77,-.83],[309,.58,.02,-.29,-.41,-.68,-.74],
[310,.47,.09,-.22,-.51,-.86,-.91],[311,.39,-.01,-.33,-.58,-.79,-.84],[312,.28,.13,-.17,-.43,-.67,-.72],[313,.19,-.03,-.28,-.52,-.81,-.86],[314,.31,.08,-.12,-.38,-.61,-.68],
[315,.22,-.09,-.32,-.49,-.77,-.83],[316,.27,.02,-.18,-.41,-.69,-.72],[317,.41,.12,-.08,-.47,-.59,-.64],[318,.18,-.02,-.27,-.39,-.78,-.81],[319,.33,.07,-.21,-.53,-.71,-.76],
[320,.42,.03,-.11,-.32,-.58,-.63],[321,.29,.11,-.19,-.48,-.77,-.82],[322,.17,-.03,-.29,-.42,-.68,-.73],[323,.38,.09,-.13,-.51,-.62,-.67],[324,.31,-.08,-.23,-.41,-.79,-.84],
[325,.48,.12,-.07,-.33,-.68,-.72],[326,.39,.01,-.28,-.49,-.61,-.66],[327,.27,.08,-.18,-.43,-.77,-.81],[328,.51,-.02,-.12,-.48,-.71,-.76],[329,.37,.17,-.22,-.31,-.58,-.63],
[330,.29,.06,-.13,-.52,-.78,-.83],[331,.47,.02,-.27,-.39,-.69,-.74],[332,.41,.19,-.21,-.47,-.88,-.93],[333,.58,.11,-.09,-.42,-.77,-.81],[334,.49,-.01,-.32,-.58,-.97,-1.02],
[335,.68,.21,-.17,-.48,-.87,-.94],[336,.61,.08,-.12,-.57,-1.07,-1.13],[337,.79,.31,-.23,-.47,-.98,-1.04],[338,.73,.18,-.29,-.68,-1.17,-1.22],[339,.88,.27,-.08,-.58,-1.09,-1.14],
[340,.82,.41,-.19,-.71,-1.28,-1.21],[341,.97,.28,-.31,-.77,-1.16,-1.24],[342,.91,.49,-.07,-.66,-1.37,-1.31],[343,1.08,.39,-.18,-.87,-1.27,-1.22],[344,1.02,.58,-.27,-.79,-1.18,-1.26],
[345,1.19,.47,-.11,-.91,-1.38,-1.33],[346,1.11,.69,-.21,-.82,-1.29,-1.24],[347,1.32,.57,.02,-.88,-1.47,-1.41],[348,1.18,.79,-.08,-.97,-1.36,-1.42],[349,1.41,.68,.09,-.79,-1.28,-1.34],
[350,1.29,.91,-.03,-1.02,-1.48,-1.43],[351,1.52,.77,.18,-.91,-1.39,-1.32],[352,1.38,.98,.12,-1.08,-1.29,-1.36],[353,1.61,.88,.27,-.93,-1.49,-1.44],[354,1.49,1.09,.19,-.98,-1.41,-1.37],
[355,1.72,.97,.38,-1.09,-1.31,-1.39],[356,1.58,1.18,.29,-.92,-1.52,-1.47],[357,1.81,1.07,.48,-1.03,-1.42,-1.36],[358,1.69,1.28,.41,-1.17,-1.51,-1.46],[359,1.84,1.19,.57,-1.07,-1.33,-1.29]
];
const seriesRows = [e34Rows, e56Rows];

// ---------- drawing ----------
const W = 607, H = 473;
const svg = d3.select("body").append("svg").attr("width", W).attr("height", H)
  .style("font-family", "'Liberation Sans', Arial, sans-serif");

const x = d3.scaleLinear().domain([0, 360]).range([62.5, 605.5]);
const fmt = d => d < 0 ? "\u2212" + (-d) : String(d);
const xMinor = d3.range(0, 361, 10).filter(v => !xTicks.includes(v));
const yMinor = d3.range(-6, 6.01, 0.5).filter(v => !yTicks.includes(v));

titles.forEach((name, i) => {
  const off = i * 238;
  const top = 28.5 + off, bot = 191.5 + off;
  const y = d3.scaleLinear().domain([-6, 6]).range([bot, top]);
  const g = svg.append("g");

  // points
  const pts = [];
  seriesRows[i].forEach(r => r.slice(1).forEach(v => pts.push([r[0], v])));
  g.append("g").attr("shape-rendering", "crispEdges").selectAll("rect").data(pts).join("rect")
    .attr("x", d => x(d[0]) - 1.35).attr("y", d => y(d[1]) - 1.35)
    .attr("width", 2.7).attr("height", 2.7).attr("fill", "#000");

  // dashed marker
  g.append("line").attr("x1", Math.round(x(markerAz[i])) + 0.5).attr("x2", Math.round(x(markerAz[i])) + 0.5)
    .attr("y1", top).attr("y2", bot).attr("stroke", "#000").attr("stroke-width", 1)
    .attr("stroke-dasharray", "11,8");

  // axes
  const ax = (axis, tr) => {
    const a = g.append("g").attr("transform", tr).call(axis);
    a.select(".domain").remove();
    a.selectAll("line").attr("stroke", "#000");
    return a;
  };
  const xb = ax(d3.axisBottom(x).tickValues(xTicks).tickSize(-6).tickPadding(13).tickFormat(d => d), `translate(0,${bot})`);
  xb.selectAll("text").attr("font-size", 13.5).attr("fill", "#000").attr("font-family", "'Liberation Sans', Arial, sans-serif");
  ax(d3.axisBottom(x).tickValues(xMinor).tickSize(-3).tickFormat(""), `translate(0,${bot})`);
  ax(d3.axisTop(x).tickValues(xTicks).tickSize(-6).tickFormat(""), `translate(0,${top})`);
  ax(d3.axisTop(x).tickValues(xMinor).tickSize(-3).tickFormat(""), `translate(0,${top})`);
  const yl = ax(d3.axisLeft(y).tickValues(yTicks).tickSize(-6).tickPadding(10).tickFormat(fmt), `translate(${x(0)},0)`);
  yl.selectAll("text").attr("font-size", 13.5).attr("fill", "#000").attr("font-family", "'Liberation Sans', Arial, sans-serif");
  ax(d3.axisLeft(y).tickValues(yMinor).tickSize(-3).tickFormat(""), `translate(${x(0)},0)`);
  ax(d3.axisRight(y).tickValues(yTicks).tickSize(-6).tickFormat(""), `translate(${x(360)},0)`);
  ax(d3.axisRight(y).tickValues(yMinor).tickSize(-3).tickFormat(""), `translate(${x(360)},0)`);

  // frame
  g.append("rect").attr("x", x(0)).attr("y", top).attr("width", x(360) - x(0)).attr("height", bot - top)
    .attr("fill", "none").attr("stroke", "#000").attr("stroke-width", 1);

  // title
  const t = g.append("text").attr("y", 21.7 + off).attr("fill", "#000");
  t.append("tspan").attr("x", 134).attr("font-family", "'Liberation Sans', Arial, sans-serif")
    .attr("font-size", 15.3).text("C/NOFS");
  t.append("tspan").attr("x", 191).attr("dy", -2.5).attr("font-family", "'DejaVu Sans', sans-serif")
    .attr("font-size", 10).text("\u25B8 ");
  t.append("tspan").attr("x", 203).attr("dy", 2.5).attr("font-family", "'DejaVu Serif', serif")
    .attr("font-size", 15).attr("textLength", 330).attr("lengthAdjust", "spacing")
    .text(name + " vs Sun Azimuth, Day 237, 2008");

  // x label
  g.append("text").attr("x", 171).attr("y", 229.3 + off).attr("font-family", "'DejaVu Serif', serif")
    .attr("font-size", 13).attr("textLength", 326).attr("lengthAdjust", "spacing").attr("fill", "#000")
    .text("Azimuth of Sun in XZ Plane (\u00B0 clock from X)");

  // y label
  g.append("text").attr("transform", `translate(23,${108 + off}) rotate(-90)`).attr("text-anchor", "middle")
    .attr("font-family", "'DejaVu Serif', serif").attr("font-size", 15).attr("fill", "#000").text("mV/m");
});
</script>
</body></html>
